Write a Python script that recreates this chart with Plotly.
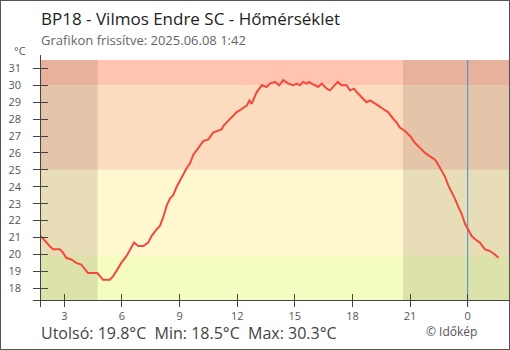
import plotly.graph_objects as go

# Station readings (time, °C)
times = [
    "2025-06-07 01:46", "2025-06-07 01:59", "2025-06-07 02:14", "2025-06-07 02:25",
    "2025-06-07 02:46", "2025-06-07 02:56", "2025-06-07 03:06", "2025-06-07 03:22",
    "2025-06-07 03:37", "2025-06-07 03:53", "2025-06-07 04:04", "2025-06-07 04:14",
    "2025-06-07 04:43", "2025-06-07 04:51", "2025-06-07 05:01", "2025-06-07 05:22",
    "2025-06-07 05:32", "2025-06-07 05:42", "2025-06-07 05:58", "2025-06-07 06:14",
    "2025-06-07 06:29", "2025-06-07 06:38", "2025-06-07 06:51", "2025-06-07 07:07",
    "2025-06-07 07:22", "2025-06-07 07:33", "2025-06-07 07:49", "2025-06-07 07:59",
    "2025-06-07 08:09", "2025-06-07 08:20", "2025-06-07 08:30", "2025-06-07 08:40",
    "2025-06-07 08:51", "2025-06-07 09:07", "2025-06-07 09:22", "2025-06-07 09:33",
    "2025-06-07 09:43", "2025-06-07 09:59", "2025-06-07 10:14", "2025-06-07 10:30",
    "2025-06-07 10:45", "2025-06-07 11:12", "2025-06-07 11:17", "2025-06-07 11:37",
    "2025-06-07 11:58", "2025-06-07 12:14", "2025-06-07 12:30", "2025-06-07 12:38",
    "2025-06-07 12:45", "2025-06-07 13:01", "2025-06-07 13:17", "2025-06-07 13:32",
    "2025-06-07 13:42", "2025-06-07 13:58", "2025-06-07 14:11", "2025-06-07 14:24",
    "2025-06-07 14:40", "2025-06-07 14:55", "2025-06-07 15:06", "2025-06-07 15:16",
    "2025-06-07 15:26", "2025-06-07 15:37", "2025-06-07 15:44", "2025-06-07 15:53",
    "2025-06-07 16:03", "2025-06-07 16:13", "2025-06-07 16:24", "2025-06-07 16:40",
    "2025-06-07 16:50", "2025-06-07 17:00", "2025-06-07 17:14", "2025-06-07 17:26",
    "2025-06-07 17:42", "2025-06-07 17:52", "2025-06-07 18:05", "2025-06-07 18:13",
    "2025-06-07 18:24", "2025-06-07 18:34", "2025-06-07 18:44", "2025-06-07 18:55",
    "2025-06-07 19:05", "2025-06-07 19:21", "2025-06-07 19:36", "2025-06-07 19:52",
    "2025-06-07 20:08", "2025-06-07 20:18", "2025-06-07 20:28", "2025-06-07 20:44",
    "2025-06-07 21:00", "2025-06-07 21:15", "2025-06-07 21:31", "2025-06-07 21:47",
    "2025-06-07 22:02", "2025-06-07 22:18", "2025-06-07 22:28", "2025-06-07 22:39",
    "2025-06-07 22:49", "2025-06-07 22:59", "2025-06-07 23:10", "2025-06-07 23:20",
    "2025-06-07 23:31", "2025-06-07 23:41", "2025-06-07 23:52", "2025-06-08 00:02",
    "2025-06-08 00:12", "2025-06-08 00:23", "2025-06-08 00:38", "2025-06-08 00:54",
    "2025-06-08 01:10", "2025-06-08 01:25", "2025-06-08 01:36",
]
temps = [
    21.1, 20.8, 20.5, 20.3,
    20.3, 20.1, 19.8, 19.7,
    19.5, 19.4, 19.1, 18.9,
    18.9, 18.7, 18.5, 18.5,
    18.7, 19.0, 19.5, 19.9,
    20.4, 20.7, 20.5, 20.5,
    20.7, 21.1, 21.5, 21.7,
    22.2, 22.9, 23.3, 23.5,
    24.0, 24.6, 25.1, 25.4,
    25.9, 26.3, 26.7, 26.8,
    27.2, 27.4, 27.6, 28.0,
    28.4, 28.6, 28.8, 29.1,
    28.9, 29.6, 30.0, 29.9,
    30.1, 30.2, 30.0, 30.3,
    30.1, 30.0, 30.1, 30.0,
    30.2, 30.1, 30.2, 30.1,
    30.0, 29.9, 30.1, 29.8,
    29.7, 29.9, 30.2, 30.0,
    30.0, 29.7, 29.8, 29.6,
    29.4, 29.2, 29.0, 29.1,
    29.0, 28.8, 28.6, 28.4,
    28.0, 27.8, 27.5, 27.3,
    27.0, 26.6, 26.3, 26.0,
    25.8, 25.6, 25.3, 24.9,
    24.6, 24.1, 23.7, 23.3,
    22.8, 22.4, 21.8, 21.4,
    21.1, 20.9, 20.7, 20.3,
    20.2, 20.0, 19.8,
]

# Axis ticks
x_tick_times = ["2025-06-07 03:00", "2025-06-07 06:00", "2025-06-07 09:00",
                "2025-06-07 12:00", "2025-06-07 15:00", "2025-06-07 18:00",
                "2025-06-07 21:00", "2025-06-08 00:00"]
x_tick_labels = ["3", "6", "9", "12", "15", "18", "21", "0"]
y_ticks = list(range(18, 32))

# Time window, sun times and temperature zones
win_start, win_end = "2025-06-07 01:45", "2025-06-08 02:09"
x_axis_start = "2025-06-07 01:22:12"
sunrise, sunset = "2025-06-07 04:44", "2025-06-07 20:38"
midnight = "2025-06-08 00:00"
zone_edges = [17.31, 19.9, 25.0, 30.0, 31.5]
zone_colors = ["#f4fcc0", "#fff8cf", "#fcdcbf", "#ffc5b0"]
y_range = [16.91, 31.79]

last_t, min_t, max_t = temps[-1], min(temps), max(temps)

W, H = 510, 350
FONT = "Open Sans, Noto Sans, DejaVu Sans, sans-serif"
AX = "#444444"


def fx(px):
    return px / W


def fy(py):
    return 1 - py / H


shapes = []
for lo, hi, col in zip(zone_edges[:-1], zone_edges[1:], zone_colors):
    shapes.append(dict(type="rect", xref="x", yref="y", x0=win_start, x1=win_end,
                       y0=lo, y1=hi, fillcolor=col, line_width=0, layer="below"))
for a, b in [(win_start, sunrise), (sunset, win_end)]:
    shapes.append(dict(type="rect", xref="x", yref="y", x0=a, x1=b,
                       y0=zone_edges[0], y1=zone_edges[-1],
                       fillcolor="rgba(40,20,0,0.11)", line_width=0, layer="below"))
shapes.append(dict(type="line", xref="x", yref="y", x0=midnight, x1=midnight,
                   y0=y_range[0], y1=zone_edges[-1],
                   line=dict(color="#3b8fd0", width=1), layer="below"))
# outer frame
shapes.append(dict(type="rect", xref="paper", yref="paper", x0=0, x1=1, y0=0, y1=1,
                   line=dict(color="#555555", width=2), fillcolor="rgba(0,0,0,0)"))

fig = go.Figure()
fig.add_trace(go.Scatter(x=times, y=temps, mode="lines",
                         line=dict(color="#f5473b", width=2),
                         hoverinfo="skip", showlegend=False))
# empty trace so the mirrored tick axes get drawn
fig.add_trace(go.Scatter(x=[], y=[], xaxis="x2", yaxis="y2", showlegend=False))

x_dom = [fx(33), fx(509)]
y_dom = [fy(306.7), fy(55)]
x_pos = fy(300)
y_pos = fx(40.3)

common_x = dict(range=[x_axis_start, win_end], type="date", tickvals=x_tick_times,
                showgrid=False, zeroline=False, fixedrange=True, anchor="free",
                position=x_pos, tickcolor=AX, tickwidth=1, ticklen=6)
common_y = dict(range=y_range, tickvals=y_ticks, showgrid=False, zeroline=False,
                fixedrange=True, anchor="free", position=y_pos, tickcolor=AX,
                tickwidth=1, ticklen=7)

fig.update_layout(
    width=W, height=H,
    margin=dict(l=0, r=0, t=0, b=0),
    paper_bgcolor="white", plot_bgcolor="rgba(0,0,0,0)",
    showlegend=False,
    font=dict(family=FONT, color="#555555"),
    xaxis=dict(domain=x_dom, ticks="outside", ticktext=x_tick_labels,
               showline=True, linecolor=AX, linewidth=1,
               tickfont=dict(size=11, color="#555555"), **common_x),
    yaxis=dict(domain=y_dom, ticks="outside", showline=True, linecolor=AX,
               linewidth=1, tickfont=dict(size=11, color="#555555"),
               ticklabelstandoff=10, **common_y),
    xaxis2=dict(overlaying="x", ticks="inside", showticklabels=False,
                showline=False, **common_x),
    yaxis2=dict(overlaying="y", ticks="inside", showticklabels=False,
                showline=False, **common_y),
    shapes=shapes,
    annotations=[
        dict(text="BP18 - Vilmos Endre SC - Hőmérséklet", x=fx(39), y=fy(18.5),
             xref="paper", yref="paper", xanchor="left", yanchor="middle",
             showarrow=False, font=dict(size=17, color="#222222", family=FONT)),
        dict(text="Grafikon frissítve: 2025.06.08 1:42", x=fx(39), y=fy(40.5),
             xref="paper", yref="paper", xanchor="left", yanchor="middle",
             showarrow=False, font=dict(size=13, color="#666666", family=FONT)),
        dict(text="°C", x=fx(12), y=fy(51), xref="paper", yref="paper",
             xanchor="left", yanchor="middle", showarrow=False,
             font=dict(size=11, color="#555555", family=FONT)),
        dict(text=f"Utolsó: {last_t:.1f}°C\u00a0\u00a0Min: {min_t:.1f}°C\u00a0\u00a0Max: {max_t:.1f}°C",
             x=fx(39), y=fy(333), xref="paper", yref="paper", xanchor="left",
             yanchor="middle", showarrow=False,
             font=dict(size=16, color="#444444", family=FONT)),
        dict(text="© Időkép", x=fx(424), y=fy(331.5), xref="paper", yref="paper",
             xanchor="left", yanchor="middle", showarrow=False,
             font=dict(size=12, color="#555555", family=FONT)),
    ],
)

fig.write_html("out.html")
